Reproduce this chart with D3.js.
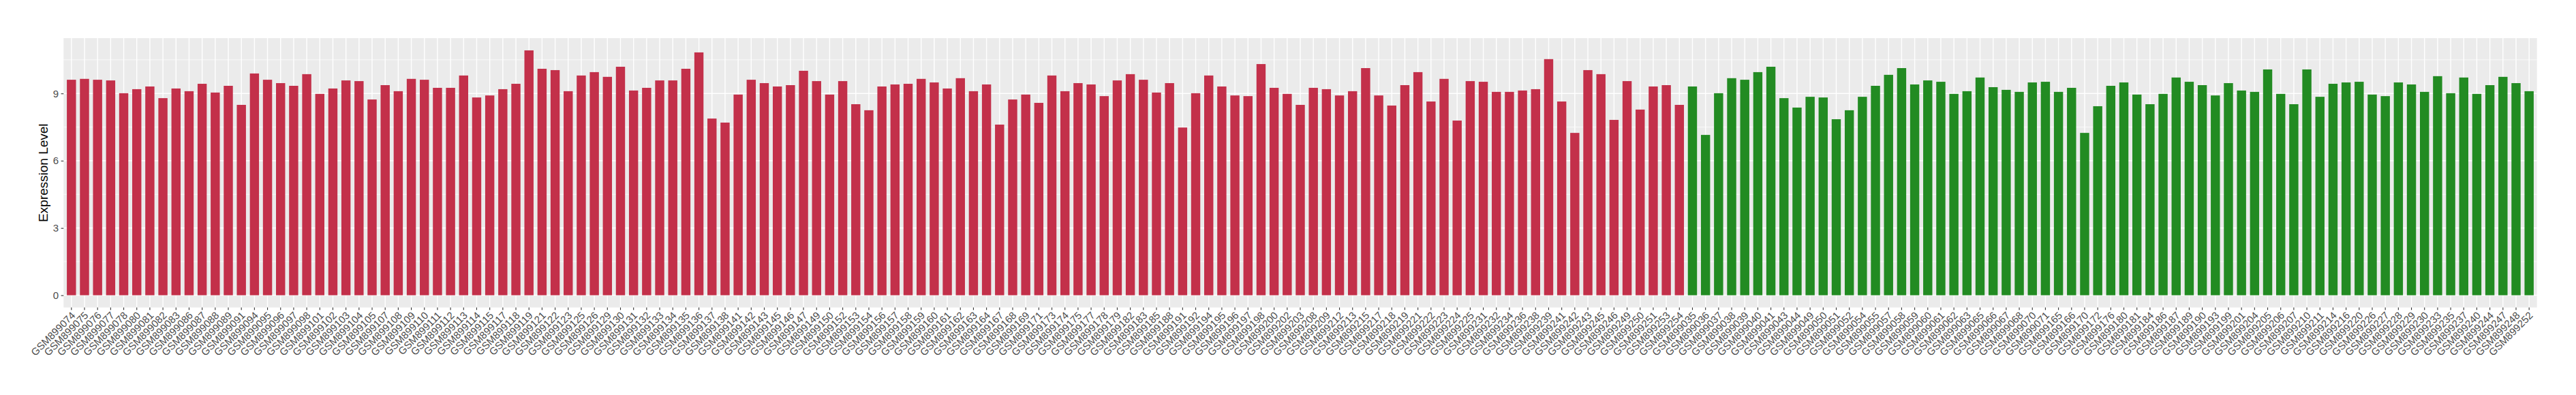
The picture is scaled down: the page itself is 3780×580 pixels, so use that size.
<!DOCTYPE html>
<html>
<head>
<meta charset="utf-8">
<script src="https://cdn.jsdelivr.net/npm/d3@7"></script>
<style>
  html, body { margin: 0; padding: 0; background: #ffffff; }
  svg { display: block; font-family: "Liberation Sans", Arial, sans-serif; }
</style>
</head>
<body>
<svg id="chart" width="3780" height="580"></svg>
<script>
// ---------------- data ----------------
const group1Samples = ["GSM899074","GSM899075","GSM899076","GSM899077","GSM899078","GSM899080","GSM899081","GSM899082","GSM899083","GSM899086","GSM899087","GSM899088","GSM899089","GSM899091","GSM899094","GSM899095","GSM899096","GSM899097","GSM899098",
"GSM899101","GSM899102","GSM899103","GSM899104","GSM899105","GSM899107","GSM899108","GSM899109","GSM899110","GSM899111","GSM899112","GSM899113","GSM899114","GSM899115","GSM899117","GSM899118","GSM899119","GSM899121","GSM899122","GSM899123","GSM899125","GSM899126","GSM899129","GSM899130","GSM899131","GSM899132","GSM899133","GSM899134","GSM899135","GSM899136",
"GSM899137","GSM899138","GSM899141","GSM899142","GSM899143","GSM899145","GSM899146","GSM899147","GSM899149","GSM899150","GSM899152","GSM899153","GSM899154","GSM899156","GSM899157","GSM899158","GSM899159","GSM899160","GSM899161","GSM899162","GSM899163","GSM899164","GSM899167","GSM899168",
"GSM899169","GSM899171","GSM899173","GSM899174","GSM899175","GSM899177","GSM899178","GSM899179","GSM899182","GSM899183","GSM899185","GSM899188","GSM899191","GSM899192","GSM899194","GSM899195","GSM899196","GSM899197","GSM899198","GSM899200","GSM899202","GSM899203","GSM899208","GSM899209",
"GSM899212","GSM899213","GSM899215","GSM899217","GSM899218","GSM899219","GSM899221","GSM899222","GSM899223","GSM899224","GSM899225","GSM899231","GSM899232","GSM899234","GSM899236","GSM899238","GSM899239","GSM899241","GSM899242","GSM899243","GSM899245","GSM899246","GSM899249","GSM899250","GSM899251","GSM899253","GSM899254"];

const group1Values = [9.61,9.65,9.61,9.58,9.01,9.19,9.31,8.79,9.22,9.10,9.43,9.04,9.34,8.49,9.89,9.61,9.46,9.34,9.86,
8.98,9.22,9.58,9.55,8.73,9.37,9.10,9.65,9.61,9.25,9.25,9.80,8.82,8.91,9.19,9.43,10.92,10.10,10.04,9.10,9.80,9.95,9.74,10.19,9.13,9.25,9.58,9.58,10.10,10.83,
7.88,7.70,8.95,9.61,9.46,9.31,9.37,10.01,9.55,8.95,9.55,8.52,8.25,9.31,9.40,9.43,9.65,9.49,9.22,9.68,9.10,9.40,7.61,8.73,
8.95,8.58,9.80,9.10,9.46,9.40,8.88,9.58,9.86,9.61,9.04,9.46,7.48,9.01,9.80,9.31,8.91,8.88,10.31,9.25,8.98,8.49,9.25,9.19,
8.91,9.10,10.13,8.91,8.46,9.37,9.95,8.64,9.65,7.79,9.55,9.52,9.07,9.07,9.13,9.19,10.53,8.64,7.24,10.04,9.86,7.82,9.55,8.28,9.31,9.37,8.49];

const group2Samples = ["GSM899035","GSM899036","GSM899037","GSM899038","GSM899039","GSM899040","GSM899041","GSM899043","GSM899044","GSM899049","GSM899050","GSM899051","GSM899052","GSM899054","GSM899055","GSM899057","GSM899058","GSM899059","GSM899060","GSM899061",
"GSM899062","GSM899063","GSM899065","GSM899066","GSM899067","GSM899068","GSM899070","GSM899071",
"GSM899165","GSM899166","GSM899170","GSM899172","GSM899176","GSM899180","GSM899181","GSM899184","GSM899186","GSM899187","GSM899189","GSM899190","GSM899193","GSM899199","GSM899201","GSM899204",
"GSM899205","GSM899206","GSM899207","GSM899210","GSM899211","GSM899214","GSM899216","GSM899220","GSM899226","GSM899227","GSM899228","GSM899229","GSM899230","GSM899233","GSM899235","GSM899237","GSM899240","GSM899244","GSM899247","GSM899248","GSM899252"];

const group2Values = [9.31,7.15,9.01,9.68,9.61,9.95,10.19,8.79,8.37,8.85,8.82,7.85,8.25,8.85,9.34,9.83,10.13,9.40,9.58,9.52,
8.98,9.10,9.71,9.28,9.16,9.07,9.49,9.52,
9.07,9.25,7.24,8.43,9.34,9.49,8.95,8.52,8.98,9.71,9.52,9.37,8.91,9.46,9.13,9.07,
10.07,8.98,8.52,10.07,8.85,9.43,9.49,9.52,8.95,8.88,9.49,9.40,9.07,9.77,9.01,9.71,8.98,9.37,9.74,9.46,9.10];

const yTickValues = [0, 3, 6, 9];
const yMinorValues = [1.5, 4.5, 7.5, 10.5];
const yAxisTitle = "Expression Level";

// ---------------- build ----------------
const colors = { g1: "#C3304A", g2: "#228B22" };
const rows = group1Samples.map((s, i) => ({ sample: s, value: group1Values[i], group: "g1" }))
  .concat(group2Samples.map((s, i) => ({ sample: s, value: group2Values[i], group: "g2" })));

const panel = { left: 93.3, right: 3722.7, top: 56, bottom: 451.5 };
const svg = d3.select("#chart");
svg.append("rect").attr("width", 3780).attr("height", 580).attr("fill", "#ffffff");

const x = d3.scaleBand()
  .domain(rows.map(d => d.sample))
  .range([panel.left, panel.right])
  .paddingInner(0.3)
  .paddingOuter(0.25);

const maxV = d3.max(rows, d => d.value);
const y = d3.scaleLinear()
  .domain([-0.05 * maxV, 1.05 * maxV])
  .range([panel.bottom, panel.top]);

// panel background
svg.append("rect")
  .attr("x", panel.left).attr("y", panel.top)
  .attr("width", panel.right - panel.left).attr("height", panel.bottom - panel.top)
  .attr("fill", "#EBEBEB");

const grid = svg.append("g");
grid.selectAll("line.minor").data(yMinorValues).join("line")
  .attr("x1", panel.left).attr("x2", panel.right)
  .attr("y1", d => y(d)).attr("y2", d => y(d))
  .attr("stroke", "#ffffff").attr("stroke-width", 0.7);
grid.selectAll("line.majory").data(yTickValues).join("line")
  .attr("x1", panel.left).attr("x2", panel.right)
  .attr("y1", d => y(d)).attr("y2", d => y(d))
  .attr("stroke", "#ffffff").attr("stroke-width", 1.4);
grid.selectAll("line.majorx").data(rows).join("line")
  .attr("x1", d => x(d.sample) + x.bandwidth() / 2).attr("x2", d => x(d.sample) + x.bandwidth() / 2)
  .attr("y1", panel.top).attr("y2", panel.bottom)
  .attr("stroke", "#ffffff").attr("stroke-width", 1.4);

// bars
svg.append("g").selectAll("rect").data(rows).join("rect")
  .attr("x", d => x(d.sample))
  .attr("width", x.bandwidth())
  .attr("y", d => y(d.value))
  .attr("height", d => y(0) - y(d.value))
  .attr("fill", d => colors[d.group]);

// y axis
const yAxis = svg.append("g")
  .attr("transform", `translate(${panel.left},0)`)
  .call(d3.axisLeft(y).tickValues(yTickValues).tickSize(3.7).tickPadding(3.5).tickFormat(d3.format("d")));
yAxis.select(".domain").remove();
yAxis.selectAll(".tick line").attr("stroke", "#333333").attr("stroke-width", 1.1);
yAxis.selectAll(".tick text").attr("fill", "#4D4D4D").style("font-size", "15px")
  .style("font-family", "'Liberation Sans', Arial, sans-serif");

// x axis
const xAxis = svg.append("g")
  .attr("transform", `translate(0,${panel.bottom})`)
  .call(d3.axisBottom(x).tickSize(3.7).tickSizeOuter(0));
xAxis.select(".domain").remove();
xAxis.selectAll(".tick line").attr("stroke", "#333333").attr("stroke-width", 1.1);
xAxis.selectAll(".tick text")
  .attr("fill", "#4D4D4D")
  .style("font-size", "15px")
  .style("font-family", "'Liberation Sans', Arial, sans-serif")
  .attr("text-anchor", "end")
  .attr("x", 0).attr("y", 0).attr("dy", "0.71em")
  .attr("transform", "translate(-1,5) rotate(-45)");

// y title
svg.append("text")
  .attr("transform", `translate(70,${(panel.top + panel.bottom) / 2}) rotate(-90)`)
  .attr("text-anchor", "middle")
  .attr("fill", "#000000")
  .style("font-size", "19px")
  .text(yAxisTitle);
</script>
</body>
</html>
